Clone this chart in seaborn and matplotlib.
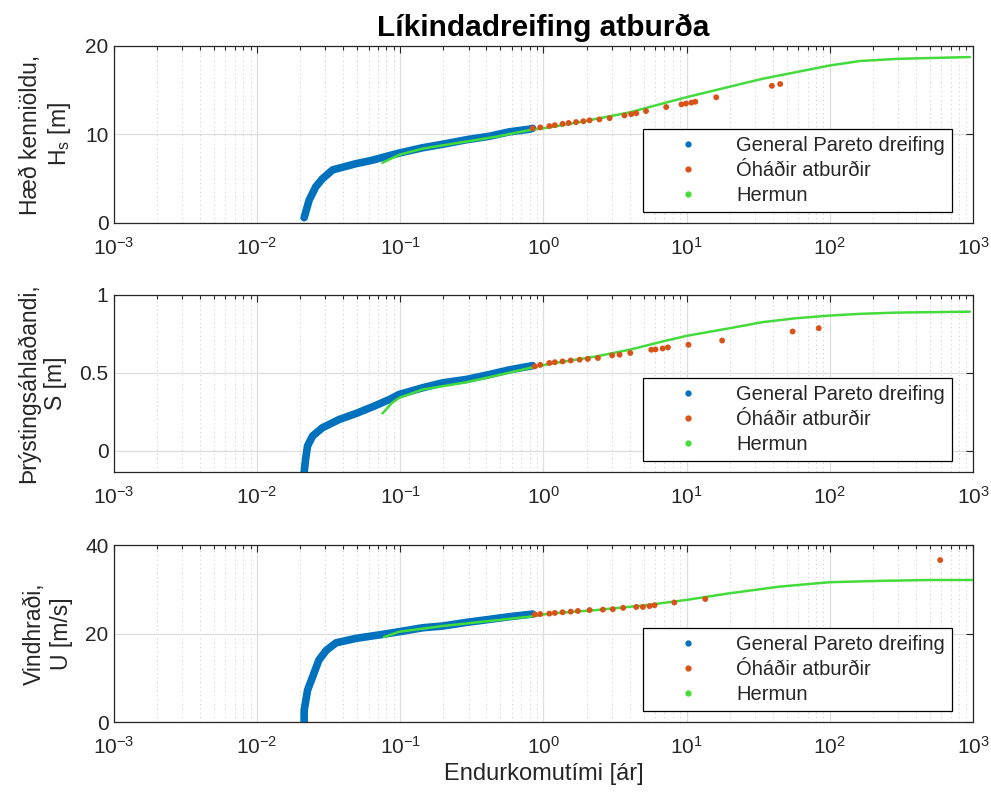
import numpy as np
import pandas as pd
import matplotlib
matplotlib.use("Agg")
import matplotlib.pyplot as plt
import seaborn as sns
from matplotlib.lines import Line2D
from matplotlib.ticker import LogLocator, NullLocator, FixedLocator

sns.set_style("white")
plt.rcParams['font.family'] = ['Liberation Sans', 'DejaVu Sans']
plt.rcParams['mathtext.default'] = 'regular'
plt.rcParams['axes.unicode_minus'] = False

# --- Hæð kenniöldu, Hs [m] ---
T_gpd_hs = [0.0213, 0.0231, 0.0257, 0.0286, 0.0337, 0.0395, 0.049, 0.064, 0.079, 0.098,
            0.143, 0.198, 0.288, 0.419, 0.578, 0.80, 0.84]
hs_gpd = [0.6, 2.6, 4.1, 5.0, 6.0, 6.3, 6.7, 7.1, 7.5, 7.9,
          8.5, 8.9, 9.4, 9.8, 10.3, 10.6, 10.7]
T_obs_hs = [0.84, 0.95, 1.1, 1.2, 1.36, 1.5, 1.69, 1.9, 2.1, 2.46, 2.9, 3.68, 4.1, 4.45,
            5.2, 7.2, 9.2, 9.9, 10.8, 11.5, 16.1, 39.4, 45.0]
hs_obs = [10.7, 10.8, 10.95, 11.05, 11.2, 11.3, 11.4, 11.5, 11.6, 11.7, 11.85, 12.15, 12.3, 12.4,
          12.65, 13.1, 13.4, 13.5, 13.6, 13.7, 14.2, 15.5, 15.7]
T_sim_hs = [0.075, 0.098, 0.143, 0.288, 0.467, 0.8, 1.1, 1.79, 4.0, 6.8, 9.9, 20, 34, 58.4,
            100, 162, 300, 950]
hs_sim = [6.8, 7.7, 8.4, 9.2, 9.75, 10.5, 10.8, 11.4, 12.5, 13.5, 14.2, 15.4, 16.3, 17.05,
          17.8, 18.3, 18.55, 18.75]

# --- Þrýstingsáhlaðandi, S [m] ---
T_gpd_s = [0.0213, 0.0218, 0.0225, 0.0244, 0.0286, 0.0375, 0.049, 0.064, 0.084, 0.098,
           0.143, 0.198, 0.288, 0.419, 0.578, 0.84]
s_gpd = [-0.138, -0.053, 0.032, 0.096, 0.149, 0.202, 0.24, 0.283, 0.33, 0.362,
         0.405, 0.437, 0.458, 0.49, 0.52, 0.547]
T_obs_s = [0.87, 0.95, 1.1, 1.2, 1.36, 1.55, 1.79, 2.04, 2.4, 3.02, 3.4, 4.04, 5.66, 6.06,
           6.8, 7.4, 10.3, 17.7, 55.0, 83.7]
s_obs = [0.542, 0.552, 0.564, 0.569, 0.574, 0.58, 0.585, 0.59, 0.596, 0.613, 0.617, 0.628,
         0.649, 0.651, 0.657, 0.664, 0.681, 0.708, 0.766, 0.787]
T_sim_s = [0.075, 0.088, 0.098, 0.143, 0.288, 0.467, 0.8, 1.1, 2.33, 4.0, 6.8, 10, 20, 34,
           58, 100, 162, 290, 950]
s_sim = [0.24, 0.31, 0.34, 0.394, 0.44, 0.483, 0.532, 0.558, 0.606, 0.649, 0.702, 0.738,
         0.787, 0.826, 0.851, 0.868, 0.879, 0.887, 0.893]

# --- Vindhraði, U [m/s] ---
T_gpd_u = [0.0213, 0.0213, 0.0225, 0.0244, 0.027, 0.0304, 0.0356, 0.049, 0.075, 0.098,
           0.143, 0.198, 0.288, 0.419, 0.578, 0.84]
u_gpd = [0.0, 2.6, 7.2, 10.2, 14.0, 16.2, 17.9, 18.9, 19.8, 20.4,
         21.3, 21.7, 22.5, 23.2, 23.8, 24.4]
T_obs_u = [0.87, 0.95, 1.1, 1.2, 1.36, 1.55, 1.74, 2.1, 2.6, 3.05, 3.6, 4.45, 4.95, 5.5,
           5.97, 8.2, 13.5, 590]
u_obs = [24.3, 24.4, 24.5, 24.65, 24.8, 24.95, 25.1, 25.3, 25.4, 25.5, 25.8, 26.0, 26.0, 26.2,
         26.4, 27.0, 27.8, 36.6]
T_sim_u = [0.077, 0.098, 0.198, 0.467, 0.8, 1.1, 2.33, 5.2, 10, 20, 44.5, 100, 223, 500, 1000]
u_sim = [19.2, 20.4, 21.7, 23.0, 23.8, 24.5, 25.3, 26.4, 27.6, 29.1, 30.6, 31.6, 31.9, 32.1, 32.1]

ylabels = ['Hæð kenniöldu,\nH$_s$ [m]', 'Þrýstingsáhlaðandi,\nS [m]', 'Vindhraði,\nU [m/s]']
ylims = [(0, 20), (-0.135, 1), (0, 40)]
yticks = [[0, 10, 20], [0, 0.5, 1], [0, 20, 40]]
ytick_labels = [['0', '10', '20'], ['0', '0.5', '1'], ['0', '20', '40']]
xticks = [1e-3, 1e-2, 1e-1, 1e0, 1e1, 1e2, 1e3]
legend_labels = ['General Pareto dreifing', 'Óháðir atburðir', 'Hermun']

c_gpd = '#0072BD'
c_obs = '#D95319'
c_sim = '#44DB3C'
txt = '#262626'

panels = [
    (T_gpd_hs, hs_gpd, T_obs_hs, hs_obs, T_sim_hs, hs_sim),
    (T_gpd_s, s_gpd, T_obs_s, s_obs, T_sim_s, s_sim),
    (T_gpd_u, u_gpd, T_obs_u, u_obs, T_sim_u, u_sim),
]

fig = plt.figure(figsize=(9.91, 7.93), dpi=100)
bottoms = [0.7188, 0.4048, 0.0895]

for i, (tg, yg, to, yo, ts, ys) in enumerate(panels):
    ax = fig.add_axes([0.1150, bottoms[i], 0.8668, 0.2232])
    gpd = pd.DataFrame({'T': tg, 'v': yg})
    obs = pd.DataFrame({'T': to, 'v': yo})
    sim = pd.DataFrame({'T': ts, 'v': ys})
    sns.lineplot(data=gpd, x='T', y='v', ax=ax, color=c_gpd, linewidth=5.5,
                 sort=False, estimator=None, solid_capstyle='round', zorder=3)
    sns.lineplot(data=sim, x='T', y='v', ax=ax, color=c_sim, linewidth=1.8,
                 sort=False, estimator=None, zorder=4)
    sns.scatterplot(data=obs, x='T', y='v', ax=ax, color=c_obs, s=18,
                    edgecolor='none', zorder=5)

    ax.set_xscale('log')
    ax.set_xlim(1e-3, 1e3)
    ax.set_ylim(*ylims[i])
    ax.set_yticks(yticks[i])
    ax.set_yticklabels(ytick_labels[i])
    ax.yaxis.set_minor_locator(NullLocator())
    ax.xaxis.set_major_locator(FixedLocator(xticks))
    ax.xaxis.set_minor_locator(LogLocator(base=10, subs=np.arange(2, 10), numticks=100))
    ax.grid(which='major', color='#dedede', linewidth=0.9)
    ax.grid(which='minor', axis='x', color='#c8c8c8', linestyle=(0, (1, 3.5)), linewidth=0.7)
    ax.set_axisbelow(True)
    ax.tick_params(which='both', direction='in', top=True, right=True, colors=txt,
                   labelsize=15, width=0.8)
    ax.tick_params(which='major', length=5)
    ax.tick_params(which='minor', length=3)
    ax.tick_params(axis='x', which='major', pad=10)
    ax.tick_params(axis='y', which='major', pad=4)
    for sp in ax.spines.values():
        sp.set_color(txt)
        sp.set_linewidth(0.9)
    ax.set_xlabel('')
    ax.set_ylabel(ylabels[i], fontsize=16.5, color=txt, labelpad=9)

    handles = [Line2D([], [], marker='o', linestyle='none', markersize=3.5, color=c)
               for c in (c_gpd, c_obs, c_sim)]
    leg = ax.legend(handles, legend_labels, loc='lower right', bbox_to_anchor=(0.9756, 0.062),
                    fontsize=14.5, frameon=True, fancybox=False, edgecolor='#000000',
                    framealpha=1, handlelength=3.8, handletextpad=0.5, labelspacing=0.3,
                    borderpad=0.35, borderaxespad=0)
    leg.get_frame().set_linewidth(0.9)
    for t in leg.get_texts():
        t.set_color(txt)

    if i == 0:
        ax.set_title('Líkindadreifing atburða', fontsize=21.5, fontweight='bold', color='#000000', pad=7)
    if i == 2:
        ax.set_xlabel('Endurkomutími [ár]', fontsize=17, color=txt, labelpad=4)

fig.savefig('out.png', dpi=100)
